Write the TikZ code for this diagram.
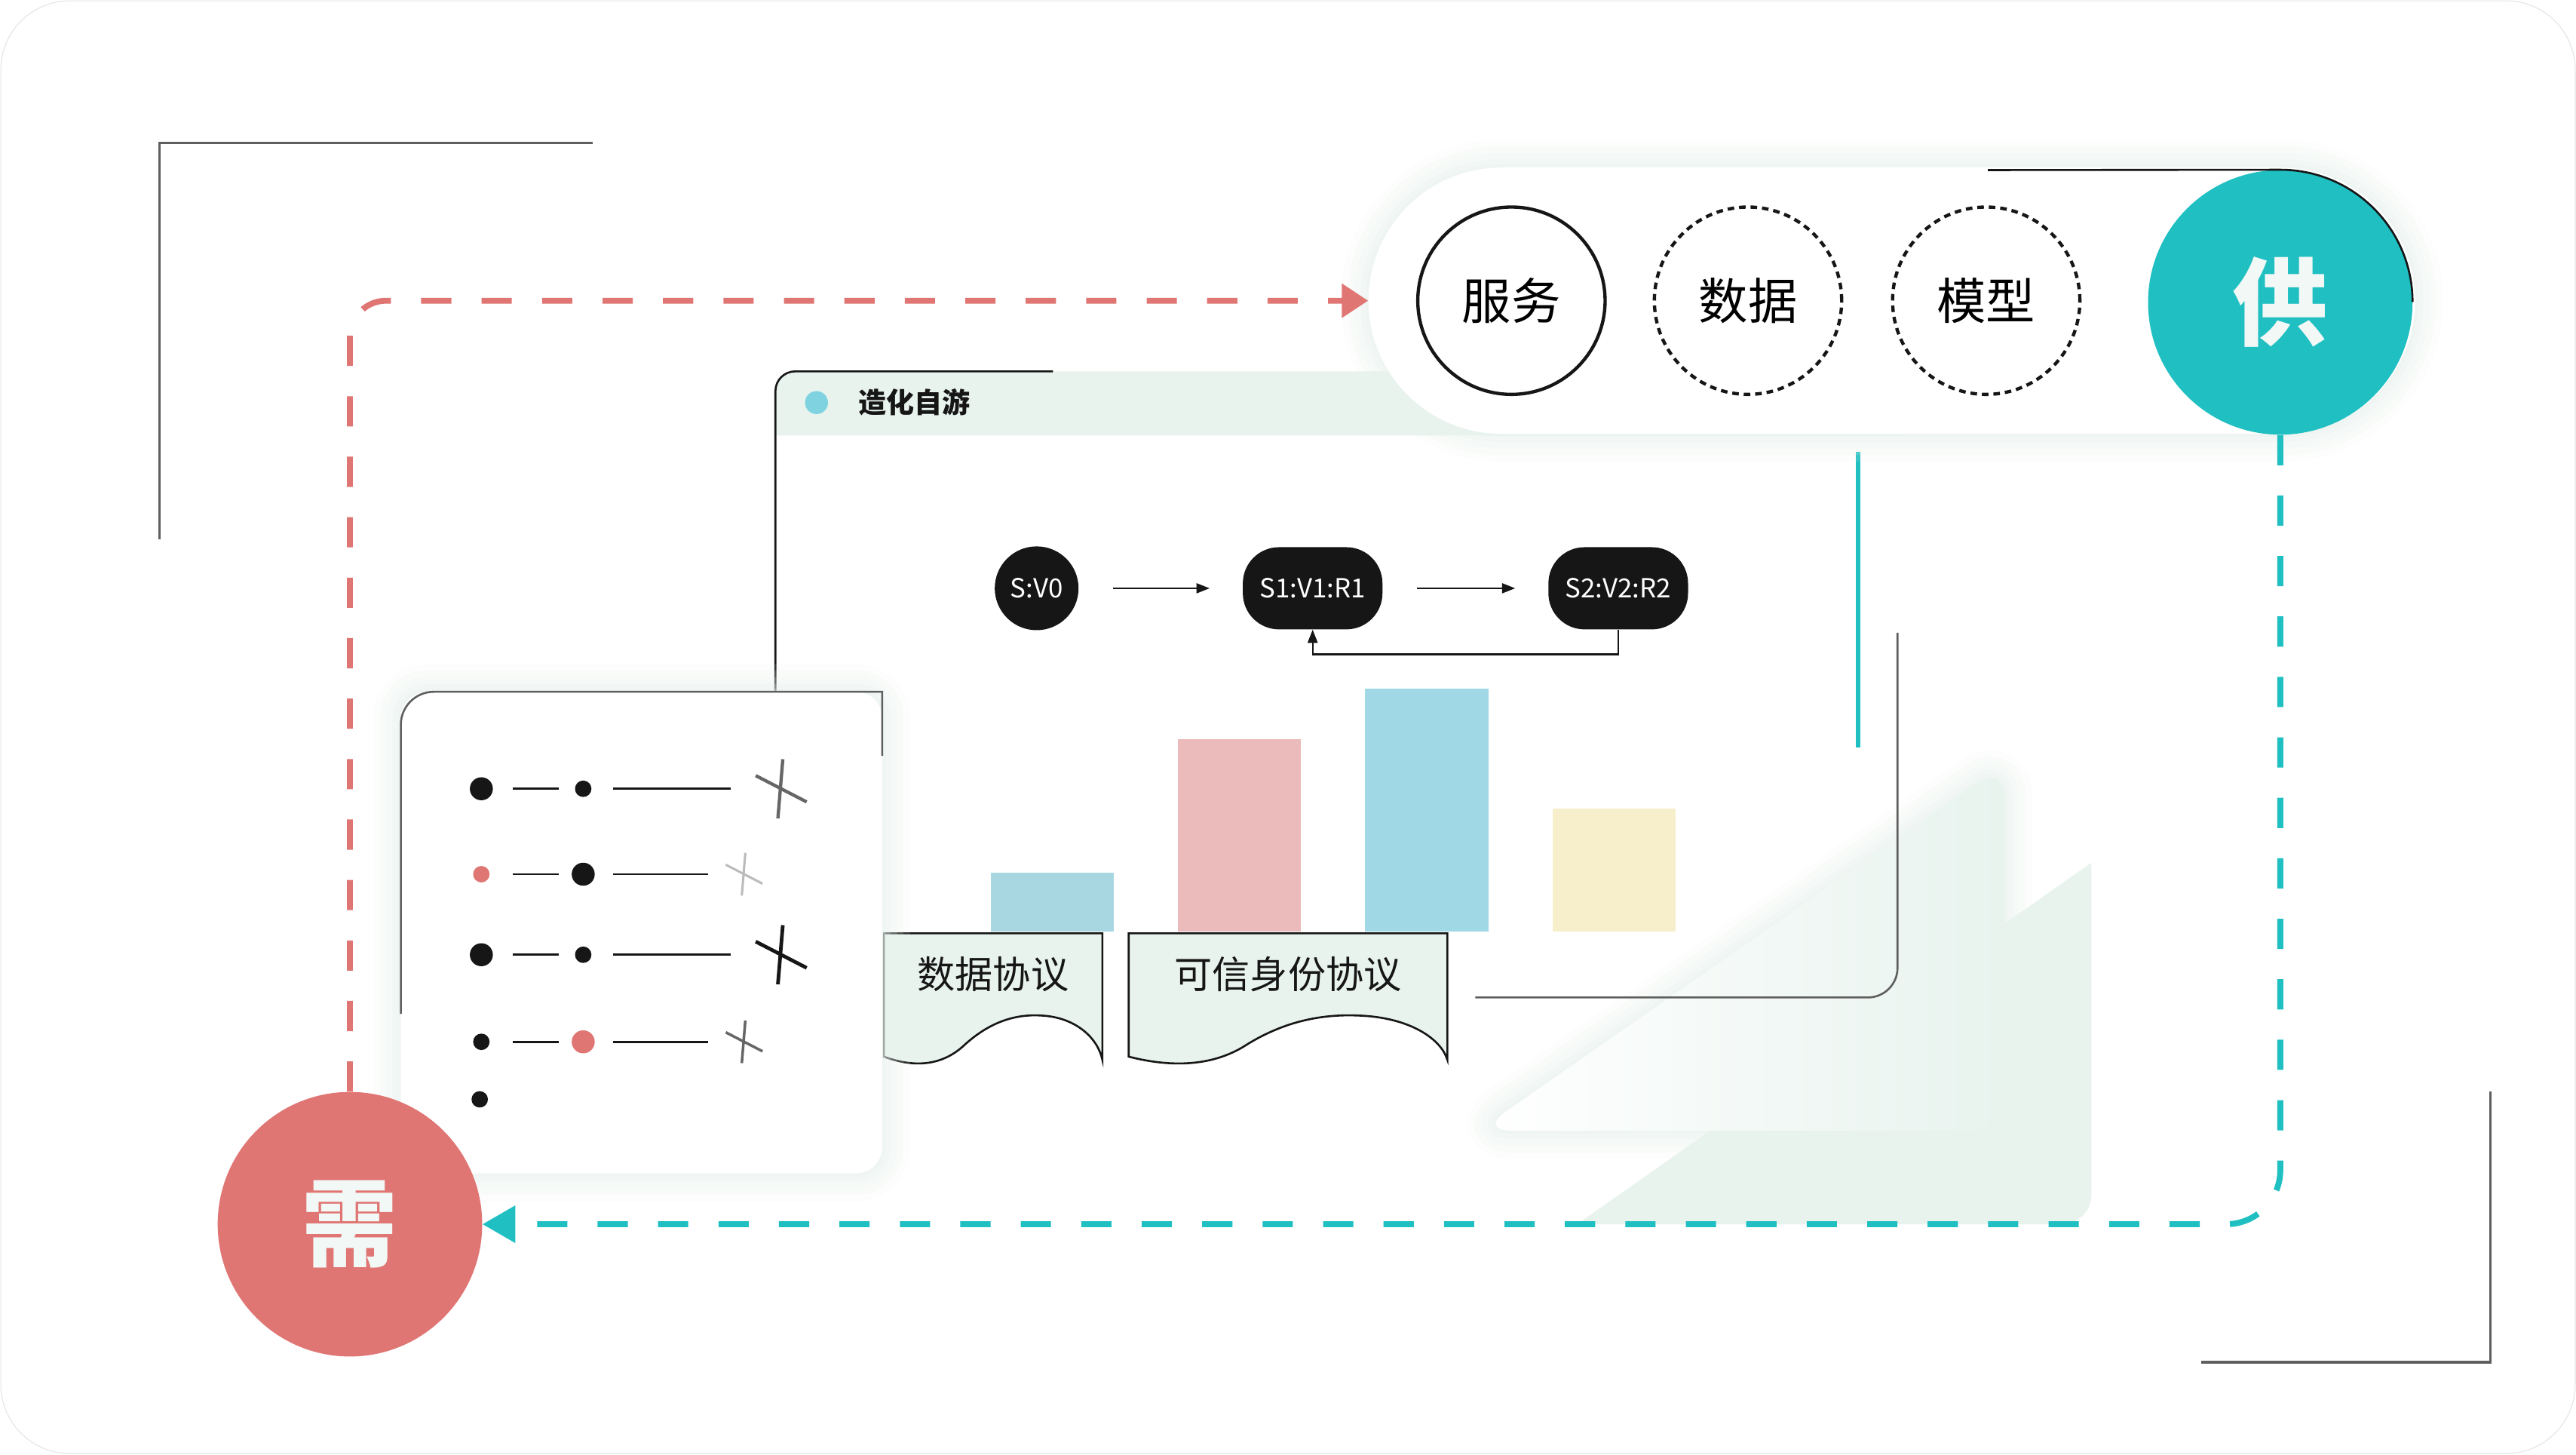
\documentclass[tikz,border=0pt]{standalone}
\usepackage{fontspec}
\setmainfont{Noto Sans CJK SC}
\usetikzlibrary{arrows.meta,positioning}

\definecolor{gongteal}{HTML}{1FBFC2}
\definecolor{xured}{HTML}{E07674}
\definecolor{mint}{HTML}{E8F3EE}
\definecolor{ink}{HTML}{161616}
\definecolor{framegray}{HTML}{5F5F5F}
\definecolor{barblue}{HTML}{A8D7E2}
\definecolor{barpink}{HTML}{EBBABA}
\definecolor{barsky}{HTML}{A0D9E5}
\definecolor{barcream}{HTML}{F7EFCB}
\definecolor{dotblue}{HTML}{7FD3E0}
\definecolor{crossgray}{HTML}{666666}
\definecolor{crosslight}{HTML}{BBBBBB}
\definecolor{paletext}{HTML}{F2F8F5}

\tikzset{
  softglow/.style={preaction={draw=mint,line width=34pt,opacity=.12},
                   preaction={draw=mint,line width=26pt,opacity=.15},
                   preaction={draw=mint,line width=18pt,opacity=.18},
                   preaction={draw=mint,line width=10pt,opacity=.22},
                   preaction={draw=mint,line width=4pt,opacity=.3}},
  bigdisc/.style={circle,minimum size=161pt,inner sep=0pt,text=paletext,
                  font=\fontsize{58}{58}\selectfont\bfseries},
  pillbox/.style={rectangle,rounded corners=81pt,fill=white,
                  minimum width=637pt,minimum height=162pt},
  topic/.style={circle,draw=ink,minimum size=114pt,inner sep=0pt,line width=2pt,
                font=\fontsize{30}{30}\selectfont},
  flownode/.style={fill=ink,text=white,minimum height=50pt,inner sep=0pt,
                   font=\fontsize{16}{16}\selectfont},
  flowarrow/.style={-{Triangle[length=8pt,width=6pt]},line width=1pt,ink},
  loopdash/.style={line width=3.6pt,dash pattern=on 18.4pt off 18.4pt},
  doc/.style={draw=ink,fill=mint,line width=1.2pt},
  rowline/.style={ink,line width=1.2pt},
}

\begin{document}
\begin{tikzpicture}[x=1pt,y=-1pt]
\useasboundingbox (0,0) rectangle (1568,885);
\fill[white] (0,0) rectangle (1568,885);
\draw[gray!20,line width=0.5pt,rounded corners=42pt] (0.5,0.5) rectangle (1567.5,884.5);

% corner brackets
\draw[framegray,line width=1.5pt] (97,328) |- (361,87);
\draw[framegray,line width=1.5pt] (1340,829) -| (1516,664);

% back decoration
\fill[mint] (960,745) -- (1273,525) [rounded corners=18pt] -- (1273,745) [sharp corners] -- cycle;
\path[softglow,left color=white,right color=mint,rounded corners=20pt]
  (900,688) -- (1220,465) -- (1220,688) -- cycle;

% window
\fill[mint,rounded corners=12pt] (472,265) |- (1160,226) [sharp corners] |- (472,265) -- cycle;
\draw[ink,line width=1.2pt,rounded corners=12pt] (472,422) |- (641,226);
\draw[framegray,line width=1.2pt,rounded corners=18pt] (1155,385) |- (898,607);
\fill[dotblue] (497,245) circle (7pt);
\node[anchor=west,text=ink,font=\fontsize{17}{17}\selectfont\bfseries] (title) at (519,245) {造化自游};
\draw[gongteal,line width=3pt] (1131,275) -- (1131,455);

% flow
\node[flownode,circle,minimum size=51pt] (sv0) at (631,358) {S:V0};
\node[flownode,rounded corners=22pt,minimum width=85pt] (s1) at (799,358) {S1:V1:R1};
\node[flownode,rounded corners=22pt,minimum width=85pt] (s2) at (985,358) {S2:V2:R2};
\draw[flowarrow] ([xshift=21pt]sv0.east) -- ([xshift=-20pt]s1.west);
\draw[flowarrow] ([xshift=21pt]s1.east) -- ([xshift=-20pt]s2.west);
\draw[flowarrow] (s2.south) -- ++(0,15) -| (s1.south);

% bars
\fill[barblue] (603,531) rectangle (678,567);
\fill[barpink] (717,450) rectangle (792,567);
\fill[barsky] (831,419) rectangle (906,567);
\fill[barcream] (945,492) rectangle (1020,567);

% documents
\foreach \dl/\dw/\dname/\dtext in {538/133/docdata/数据协议,687/194/docid/可信身份协议}{
  \draw[doc] ({\dl+\dw},645) -- ({\dl+\dw},568) -- (\dl,568) -- (\dl,643)
    .. controls ({\dl+0.1*\dw},648) and ({\dl+0.24*\dw},651) .. ({\dl+0.36*\dw},637)
    .. controls ({\dl+0.48*\dw},622) and ({\dl+0.6*\dw},617) .. ({\dl+0.72*\dw},618)
    .. controls ({\dl+0.88*\dw},619) and ({\dl+0.98*\dw},632) .. ({\dl+\dw},645) -- cycle;
  \node[text=ink,font=\fontsize{23}{23}\selectfont] (\dname) at ({\dl+0.5*\dw},593) {\dtext};
}

% left card
\fill[white,softglow,rounded corners=16pt] (244,421) rectangle (537,714);
\draw[framegray,line width=1.2pt,rounded corners=20pt] (244,617) |- (400,421) [sharp corners] -- (537,421) -- (537,460);
\foreach \y/\ca/\ra/\cb/\rb/\xe/\cc/\cs/\cw in
  {480/ink/7/ink/5/445/crossgray/1/2,532/xured/5/ink/7/431/crosslight/.72/1.4,
   581/ink/7/ink/5/445/ink/1/2.2,634/ink/5/xured/7/431/crossgray/.72/1.6}{
  \fill[\ca] (293,\y) circle (\ra pt);
  \draw[rowline] (312,\y) -- (340,\y);
  \fill[\cb] (355,\y) circle (\rb pt);
  \draw[rowline] (373,\y) -- (\xe,\y);
  \begin{scope}[shift={({\xe+30*\cs},\y)},scale=\cs]
    \draw[\cc,line width=\cw pt] (1.5,-18) -- (-1.5,18) (-15,-8) -- (16,8);
  \end{scope}
}
\fill[ink] (292,669) circle (5pt);

% supply pill
\node[pillbox,softglow] (pill) at (1151.5,183) {};
\node[topic] (fuwu) at (920,183) {服务};
\node[topic,dash pattern=on 4pt off 3pt] (shuju) at (1064,183) {数据};
\node[topic,dash pattern=on 4pt off 3pt] (moxing) at (1209,183) {模型};
\node[bigdisc,fill=gongteal] (gong) at (1388,184) {供};
\draw[ink,line width=1.2pt] (1210,103.5) -- (gong.north) arc[start angle=90,end angle=0,radius=80.5pt];

% demand
\node[bigdisc,fill=xured] (xu) at (213,745) {需};

% loop
\draw[loopdash,xured,rounded corners=22pt,-{Triangle[length=16pt,width=20pt]}] (xu.north) |- (pill.west);
\draw[loopdash,gongteal,rounded corners=33pt,-{Triangle[length=20pt,width=22pt]}] (gong.south) |- (xu.east);
\end{tikzpicture}
\end{document}
